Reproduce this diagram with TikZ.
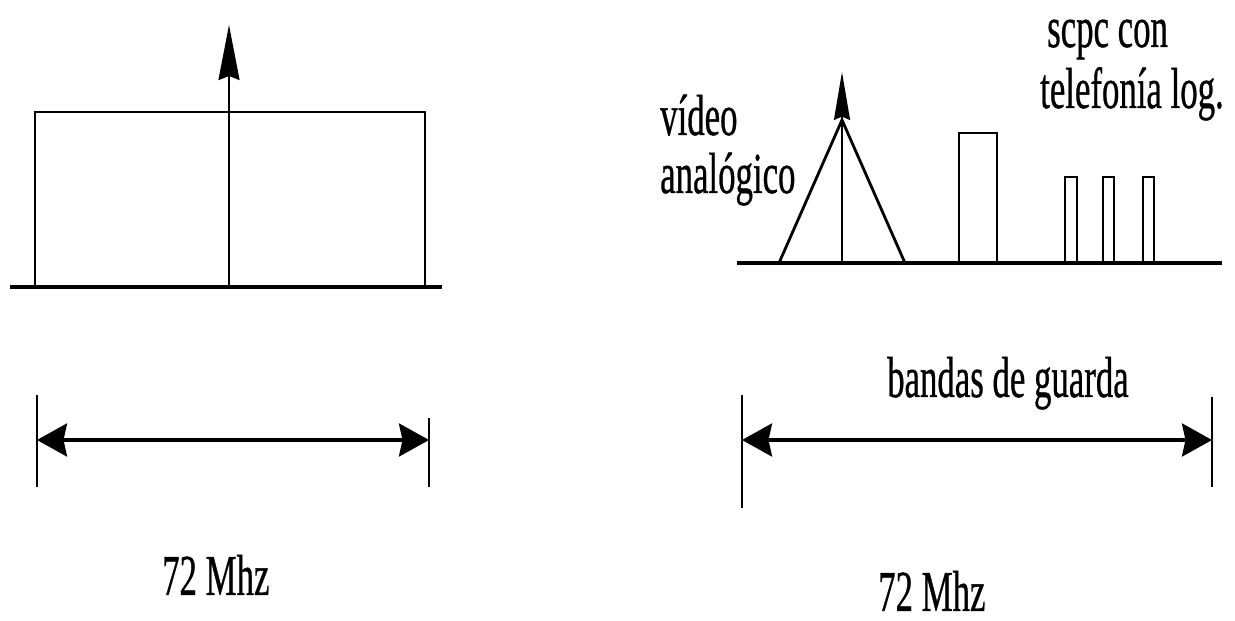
\documentclass[tikz,border=0pt]{standalone}
\usepackage{fontspec}
\setmainfont{Liberation Serif}[FakeBold=0.8]
\usetikzlibrary{arrows.meta}
\begin{document}
\begin{tikzpicture}[x=0.02cm,y=-0.02cm,
  baseln/.style={line width=2.3pt},
  boxln/.style={line width=1.6pt},
  sig/.style={line width=1.2pt,-{Stealth[length=#1,width=0.42cm,inset=0.08cm]}},
  sigs/.style={line width=1.2pt,-{Stealth[length=0.96cm,width=0.32cm,inset=0.07cm]}},
  dimarrow/.style={line width=1.8pt,{Stealth[length=0.6cm,width=0.66cm,inset=0.07cm]}-{Stealth[length=0.6cm,width=0.66cm,inset=0.07cm]}},
  tickln/.style={line width=1.2pt},
  lbl/.style={inner sep=0pt,anchor=base west,xscale=0.6,font=\fontsize{33}{40}\selectfont}]
\useasboundingbox (0,0) rectangle (1235,621);
% ---------- left panel ----------
\coordinate (Lb1) at (10,287);
\coordinate (Lb2) at (442,287);
\draw[baseln] (Lb1) -- (Lb2);
\draw[boxln] (35,287) -- (35,112) -- (425,112) -- (425,287);
\coordinate (La0) at (229,287);
\coordinate (La1) at (229,25);
\draw[sig=1.1cm] (La0) -- (La1);
\coordinate (Ld1) at (37,440);
\coordinate (Ld2) at (429,440);
\draw[tickln] (37,395) -- (37,487);
\draw[tickln] (429,418) -- (429,487);
\draw[dimarrow] (Ld1) -- (Ld2);
\node[lbl] (lmhz) at (162,595) {72 Mhz};
% ---------- right panel ----------
\coordinate (Rb1) at (737,263);
\coordinate (Rb2) at (1222,263);
\draw[baseln] (Rb1) -- (Rb2);
\draw[boxln] (779,263) -- (842,120) -- (905,263);
\coordinate (Ra0) at (842,263);
\coordinate (Ra1) at (842,72);
\draw[sigs] (Ra0) -- (Ra1);
\draw[boxln] (959,263) -- (959,133) -- (997,133) -- (997,263);
\draw[boxln] (1065,263) -- (1065,177) -- (1077,177) -- (1077,263);
\draw[boxln] (1103,263) -- (1103,177) -- (1114,177) -- (1114,263);
\draw[boxln] (1143,263) -- (1143,177) -- (1154,177) -- (1154,263);
\coordinate (Rd1) at (742,440);
\coordinate (Rd2) at (1212,440);
\draw[tickln] (742,395) -- (742,508);
\draw[tickln] (1212,397) -- (1212,487);
\draw[dimarrow] (Rd1) -- (Rd2);
\node[lbl] (video) at (660,135) {vídeo};
\node[lbl] (analog) at (660,193) {analógico};
\node[lbl] (scpc) at (1047,47) {scpc con};
\node[lbl] (telef) at (1040,108) {telefonía log.};
\node[lbl] (bandas) at (887,397) {bandas de guarda};
\node[lbl] (rmhz) at (878,611) {72 Mhz};
\end{tikzpicture}
\end{document}
